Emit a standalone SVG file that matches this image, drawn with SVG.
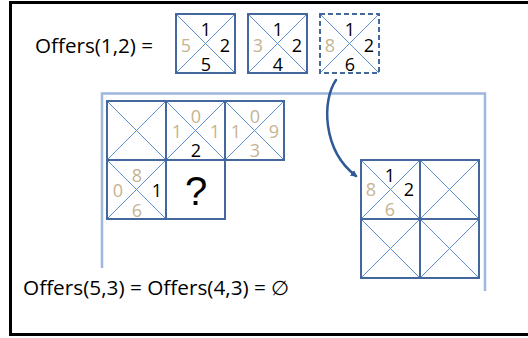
<svg xmlns="http://www.w3.org/2000/svg" width="528" height="338" viewBox="0 0 528 338">
<style>
.frame{fill:none;stroke:#000;stroke-width:3}
.b{fill:none;stroke:#44679E;stroke-width:2}
.dash{stroke-dasharray:5 3}
.d{stroke:#5E8FD2;stroke-width:1}
.lbl{font-family:"Open Sans","Liberation Sans",sans-serif;font-size:20px;fill:#000}
.n{font-family:"Open Sans","Liberation Sans",sans-serif;font-size:18px;text-anchor:middle;fill:#000}
.t{fill:#C4B593}
.q{font-family:"Liberation Sans","Open Sans",sans-serif;font-size:40px;text-anchor:middle;fill:#000}
.region{fill:none;stroke:#9DB7DF;stroke-width:2.5}
.arrow{fill:none;stroke:#2F5A96;stroke-width:2.5;stroke-linecap:round}
</style>
<defs>
<g id="cross"><line class="d" x1="0" y1="0" x2="59" y2="59"/><line class="d" x1="59" y1="0" x2="0" y2="59"/></g>
<marker id="ah" viewBox="0 0 10 10" refX="6" refY="5" markerWidth="3.5" markerHeight="3.5" orient="auto" markerUnits="strokeWidth">
<path d="M0,1 L8,5 L0,9 z" fill="#2F5A96"/>
</marker>
</defs>
<rect class="frame" x="10.5" y="2.5" width="530" height="332"/>
<text class="lbl" x="35" y="53" textLength="118" lengthAdjust="spacingAndGlyphs">Offers(1,2) =</text>
<text class="lbl" x="23" y="295" textLength="266" lengthAdjust="spacingAndGlyphs">Offers(5,3) = Offers(4,3) = ∅</text>
<path class="region" d="M102,268 V93.5 H485 V291"/>
<g id="offerA">
<use href="#cross" x="176" y="14"/><rect class="b" x="176" y="14" width="59" height="59"/>
<text class="n" x="206" y="36">1</text><text class="n" x="225" y="52">2</text><text class="n t" x="186" y="52">5</text><text class="n" x="206" y="71">5</text>
</g>
<g id="offerB">
<use href="#cross" x="248" y="14"/><rect class="b" x="248" y="14" width="59" height="59"/>
<text class="n" x="278" y="36">1</text><text class="n" x="297" y="52">2</text><text class="n t" x="258" y="52">3</text><text class="n" x="278" y="71">4</text>
</g>
<g id="offerC">
<use href="#cross" x="320" y="14"/><rect class="b dash" x="320" y="14" width="59" height="59"/>
<text class="n" x="350" y="36">1</text><text class="n" x="369" y="52">2</text><text class="n t" x="330" y="52">8</text><text class="n" x="350" y="71">6</text>
</g>
<g id="g11"><use href="#cross" x="107" y="101"/><rect class="b" x="107" y="101" width="59" height="59"/></g>
<g id="g12">
<use href="#cross" x="166" y="101"/><rect class="b" x="166" y="101" width="59" height="59"/>
<text class="n t" x="196" y="123">0</text><text class="n t" x="177" y="138">1</text><text class="n t" x="215" y="138">1</text><text class="n" x="196" y="157">2</text>
</g>
<g id="g13">
<use href="#cross" x="225" y="101"/><rect class="b" x="225" y="101" width="59" height="59"/>
<text class="n t" x="255" y="123">0</text><text class="n t" x="236" y="138">1</text><text class="n t" x="274" y="138">9</text><text class="n t" x="255" y="157">3</text>
</g>
<g id="g21">
<use href="#cross" x="107" y="160"/><rect class="b" x="107" y="160" width="59" height="59"/>
<text class="n t" x="137" y="182">8</text><text class="n t" x="118" y="197">0</text><text class="n" x="157" y="197">1</text><text class="n t" x="137" y="217">6</text>
</g>
<g id="g22">
<rect class="b" x="166" y="160" width="59" height="59"/>
<text class="q" x="196" y="205">?</text>
</g>
<g id="r11">
<use href="#cross" x="361" y="160"/><rect class="b" x="361" y="160" width="59" height="59"/>
<text class="n" x="390" y="182">1</text><text class="n" x="409" y="196">2</text><text class="n t" x="371" y="196">8</text><text class="n t" x="390" y="216">6</text>
</g>
<g id="r12"><use href="#cross" x="420" y="160"/><rect class="b" x="420" y="160" width="59" height="59"/></g>
<g id="r21"><use href="#cross" x="361" y="219"/><rect class="b" x="361" y="219" width="59" height="59"/></g>
<g id="r22"><use href="#cross" x="420" y="219"/><rect class="b" x="420" y="219" width="59" height="59"/></g>
<g id="connectors">
<path class="arrow" d="M336,80 C322,100 322,150 356,176" marker-end="url(#ah)"/>
</g>
</svg>
